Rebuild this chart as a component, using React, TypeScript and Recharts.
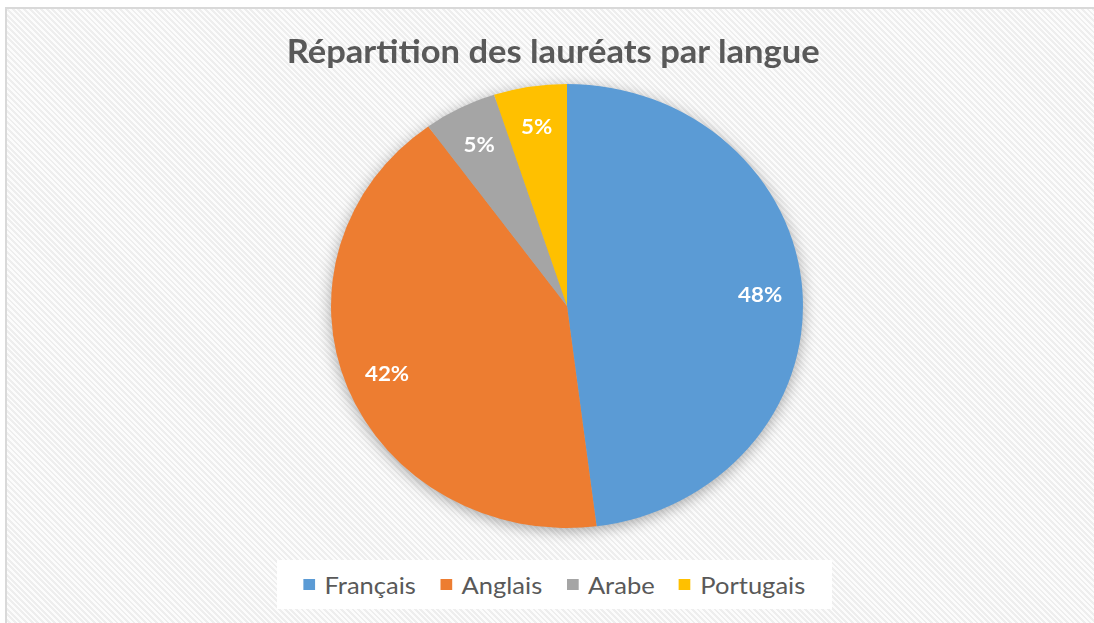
import { PieChart, Pie, Cell, Legend } from "recharts";

// Répartition des lauréats par langue (%)
const languages = ["Français", "Anglais", "Arabe", "Portugais"];
const shares = [48, 42, 5, 5];
const colors = ["#5B9BD5", "#ED7D31", "#A5A5A5", "#FFC000"];

const data = languages.map((name, i) => ({ name, value: shares[i], fill: colors[i] }));

const RADIAN = Math.PI / 180;
const FONT = "Lato, 'Noto Sans', sans-serif";
// the reference pie is a little wider than tall
const STRETCH = 1.063;

function renderLabel(props: any) {
  const { cx, cy, midAngle, outerRadius, value } = props;
  const r = outerRadius * 0.82;
  const x = cx + r * Math.cos(-midAngle * RADIAN);
  const y = cy + r * Math.sin(-midAngle * RADIAN);
  return (
    <text
      x={x}
      y={y}
      fill="#fff"
      textAnchor="middle"
      dominantBaseline="central"
      fontSize={21}
      fontWeight={700}
      fontFamily={FONT}
    >
      {value}%
    </text>
  );
}

function LegendBox({ payload }: any) {
  const items = [...(payload || [])].sort(
    (a: any, b: any) => languages.indexOf(a.value) - languages.indexOf(b.value)
  );
  return (
    <div
      style={{
        display: "flex",
        justifyContent: "center",
        alignItems: "center",
        height: "100%",
        fontFamily: FONT,
        fontSize: 24,
        color: "#595959",
      }}
    >
      {items.map((entry: any, i: number) => (
        <span key={i} style={{ display: "flex", alignItems: "center", marginRight: i < 3 ? 23 : 0 }}>
          <span
            style={{
              width: 11,
              height: 11,
              background: colors[languages.indexOf(entry.value)] || entry.color,
              marginRight: 9,
            }}
          />
          <span>{entry.value}</span>
        </span>
      ))}
    </div>
  );
}

export default function App() {
  return (
    <div style={{ position: "fixed", left: 0, top: 0, width: 1094, height: 623, overflow: "hidden", background: "#fff" }}>
      <style>{`.recharts-pie { filter: drop-shadow(0px 3px 7px rgba(0,0,0,0.33)); }`}</style>
      <div
        style={{
          position: "absolute",
          left: 5,
          top: 7,
          width: 1200,
          height: 700,
          border: "2px solid #d9d9d9",
          background:
            "repeating-linear-gradient(45deg, #fcfcfc 0px, #fcfcfc 2px, #eeeeee 2px, #eeeeee 4px)",
        }}
      />
      <div
        style={{
          position: "absolute",
          left: 0,
          top: 0,
          width: 1094,
          height: 623,
          transform: `scaleX(${STRETCH})`,
          transformOrigin: "567px 0px",
        }}
      >
        <div
          style={{
            position: "absolute",
            left: 0,
            width: 1108,
            top: 31,
            textAlign: "center",
            fontFamily: FONT,
            fontWeight: 700,
            fontSize: 32.5,
            color: "#595959",
          }}
        >
          Répartition des lauréats par langue
        </div>
        <PieChart width={1094} height={623}>
          <Pie
            data={data}
            dataKey="value"
            nameKey="name"
            cx={562}
            cy={301}
            outerRadius={222}
            startAngle={90}
            endAngle={-270}
            stroke="none"
            labelLine={false}
            label={renderLabel}
            isAnimationActive={false}
          >
            {data.map((d, i) => (
              <Cell key={d.name} fill={colors[i]} />
            ))}
          </Pie>
          <Legend
            content={<LegendBox />}
            wrapperStyle={{ left: 294, top: 560, width: 522, height: 48, background: "#fff" }}
          />
        </PieChart>
      </div>
    </div>
  );
}
